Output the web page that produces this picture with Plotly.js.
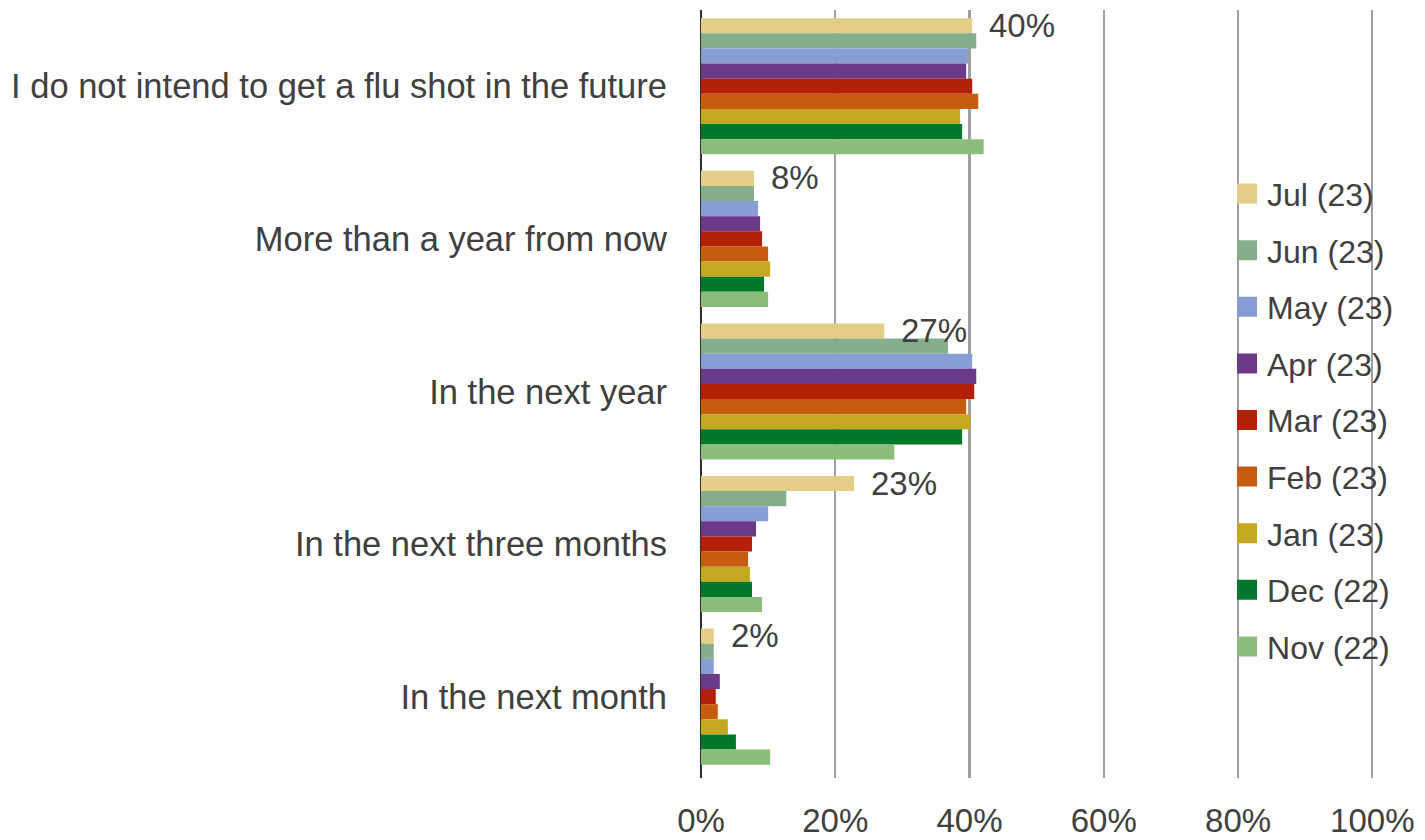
<!DOCTYPE html>
<html>
<head>
<meta charset="utf-8">
<script src="https://cdn.plot.ly/plotly-3.0.1.min.js"></script>
<style>
  html, body { margin: 0; padding: 0; background: #ffffff; }
  #chart { width: 1425px; height: 840px; }
</style>
</head>
<body>
<div id="chart"></div>
<script>
const categories = [
  "I do not intend to get a flu shot in the future",
  "More than a year from now",
  "In the next year",
  "In the next three months",
  "In the next month"
];
const seriesNames = ["Jul (23)", "Jun (23)", "May (23)", "Apr (23)", "Mar (23)", "Feb (23)", "Jan (23)", "Dec (22)", "Nov (22)"];
const jul23 = [40.4, 7.9, 27.3, 22.8, 1.9];
const jun23 = [41.0, 7.9, 36.8, 12.7, 1.9];
const may23 = [39.8, 8.5, 40.4, 10.0, 1.9];
const apr23 = [39.5, 8.8, 41.0, 8.2, 2.8];
const mar23 = [40.4, 9.1, 40.7, 7.6, 2.2];
const feb23 = [41.3, 10.0, 39.5, 7.0, 2.5];
const jan23 = [38.6, 10.3, 40.1, 7.3, 4.0];
const dec22 = [38.9, 9.4, 38.9, 7.6, 5.2];
const nov22 = [42.1, 10.0, 28.8, 9.1, 10.3];
const seriesValues = [jul23, jun23, may23, apr23, mar23, feb23, jan23, dec22, nov22];
const xTickValues = [0, 20, 40, 60, 80, 100];
const xTickLabels = ["0%", "20%", "40%", "60%", "80%", "100%"];

const colors = ["#E4CE87", "#84AF8A", "#879ED4", "#6A398A", "#B22008", "#C65C10", "#C4A822", "#00782A", "#8BBE7A"];

const textColor = "#404040";
const fontFamily = "Liberation Sans, Arial, sans-serif";

const traces = seriesNames.map((name, i) => ({
  type: "bar",
  orientation: "h",
  name: name,
  legendgroup: "g" + i,
  x: seriesValues[i],
  y: categories,
  marker: { color: colors[i] },
  hoverinfo: "x+name"
}));

// Data labels for the first series (Jul 23), placed to the right of its bars
const nSeries = seriesNames.length;
const bargap = 0.108;
const catPx = 768 / categories.length;
const slotPx = catPx * (1 - bargap) / nSeries;
const firstOffset = (nSeries - 1) / 2 * slotPx;
const annotations = categories.map((c, k) => ({
  x: jul23[k],
  y: c,
  xref: "x",
  yref: "y",
  text: Math.round(jul23[k]) + "%",
  showarrow: false,
  xanchor: "left",
  yanchor: "middle",
  xshift: 15,
  yshift: firstOffset,
  font: { family: fontFamily, size: 33, color: textColor }
}));

const layout = {
  width: 1425,
  height: 840,
  margin: { l: 701, r: 51, t: 10, b: 62 },
  paper_bgcolor: "#ffffff",
  plot_bgcolor: "#ffffff",
  font: { family: fontFamily, size: 33, color: textColor },
  barmode: "group",
  bargap: bargap,
  bargroupgap: 0,
  showlegend: true,
  legend: {
    x: 0.7816,
    xanchor: "left",
    y: 0.7965,
    yanchor: "top",
    bgcolor: "rgba(0,0,0,0)",
    traceorder: "grouped",
    tracegroupgap: 12,
    font: { family: fontFamily, size: 32, color: textColor }
  },
  xaxis: {
    range: [0, 100.25],
    tickmode: "array",
    tickvals: xTickValues,
    ticktext: xTickLabels,
    showgrid: true,
    gridcolor: "#A0A0A0",
    gridwidth: 2.2,
    zeroline: true,
    zerolinecolor: "#303030",
    zerolinewidth: 2.8,
    showline: false,
    ticks: "",
    ticklabelstandoff: 20,
    tickfont: { family: fontFamily, size: 33, color: textColor },
    fixedrange: true
  },
  yaxis: {
    type: "category",
    autorange: "reversed",
    showgrid: false,
    zeroline: false,
    showline: false,
    ticks: "",
    ticklabelstandoff: 33,
    tickfont: { family: fontFamily, size: 34.5, color: textColor },
    fixedrange: true
  },
  annotations: annotations
};

Plotly.newPlot("chart", traces, layout, { displayModeBar: false, staticPlot: true }).then(gd => {
  // enlarge legend swatches to match the reference's square keys
  gd.querySelectorAll(".legend .legendpoints path").forEach(p => {
    p.setAttribute("d", "M10,10H-10V-10H10Z");
  });
});
</script>
</body>
</html>
